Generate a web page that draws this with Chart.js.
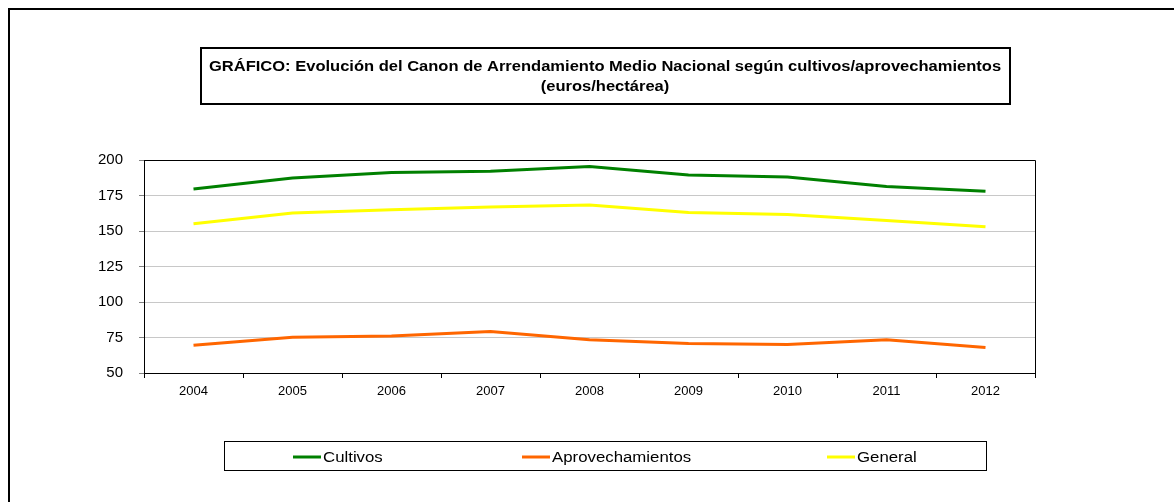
<!DOCTYPE html>
<html>
<head>
<meta charset="utf-8">
<script src="https://cdn.jsdelivr.net/npm/chart.js@4/dist/chart.umd.min.js"></script>
<style>
  html, body { margin: 0; padding: 0; background: #fff; }
  #wrap { width: 1174px; height: 502px; }
</style>
</head>
<body>
<div id="wrap"><canvas id="canonChart" width="1174" height="502"></canvas></div>
<script>
const years = ['2004', '2005', '2006', '2007', '2008', '2009', '2010', '2011', '2012'];
const cultivos = [179.6, 187.4, 191.2, 192.0, 195.4, 189.4, 188.0, 181.4, 178.0];
const aprovechamientos = [69.5, 75.1, 76.1, 79.3, 73.4, 70.8, 70.1, 73.4, 68.0];
const general = [155.1, 162.6, 165.0, 166.9, 168.3, 163.0, 161.6, 157.4, 153.0];

const titleLines = [
    'GRÁFICO: Evolución del Canon de Arrendamiento Medio Nacional según cultivos/aprovechamientos',
    '(euros/hectárea)'
];
const FONT = '"Liberation Sans", Arial, sans-serif';

// text stretched a bit wider, like the reference
function wideText(ctx, text, x, y, sx) {
    ctx.save();
    ctx.translate(x, y);
    ctx.scale(sx, 1);
    ctx.fillText(text, 0, 0);
    ctx.restore();
}

// frame, title box, legend box and plot border (Excel look)
const excelDecor = {
    id: 'excelDecor',
    afterDraw(chart) {
        const ctx = chart.ctx;
        const area = chart.chartArea;
        ctx.save();

        // outer frame
        ctx.strokeStyle = '#000';
        ctx.lineWidth = 2;
        ctx.beginPath();
        ctx.moveTo(9, 502);
        ctx.lineTo(9, 9);
        ctx.lineTo(1174, 9);
        ctx.stroke();

        // plot area border
        ctx.lineWidth = 1;
        ctx.beginPath();
        ctx.moveTo(area.left, area.top + 0.5);
        ctx.lineTo(area.right + 0.5, area.top + 0.5);
        ctx.lineTo(area.right + 0.5, area.bottom);
        ctx.stroke();

        // title box
        ctx.lineWidth = 2;
        ctx.strokeRect(201, 48, 809, 56);
        ctx.fillStyle = '#000';
        ctx.font = 'bold 14px ' + FONT;
        ctx.textAlign = 'center';
        ctx.textBaseline = 'middle';
        wideText(ctx, titleLines[0], 605, 67, 1.18);
        wideText(ctx, titleLines[1], 605, 87, 1.18);

        // legend box
        ctx.lineWidth = 1;
        ctx.strokeRect(224.5, 441.5, 762, 29);
        ctx.font = '14px ' + FONT;
        ctx.textAlign = 'left';
        const items = [[293, 0], [522, 1], [827, 2]];
        items.forEach(([x, i]) => {
            const ds = chart.data.datasets[i];
            ctx.strokeStyle = ds.borderColor;
            ctx.lineWidth = 3;
            ctx.beginPath();
            ctx.moveTo(x, 457);
            ctx.lineTo(x + 28, 457);
            ctx.stroke();
            ctx.fillStyle = '#000';
            wideText(ctx, ds.label, x + 30, 458, 1.2);
        });
        ctx.restore();
    }
};

const ctx = document.getElementById('canonChart').getContext('2d');
const canonChart = new Chart(ctx, {
    type: 'line',
    data: {
        labels: years,
        datasets: [
            { label: 'Cultivos', data: cultivos, borderColor: '#008000', backgroundColor: '#008000' },
            { label: 'Aprovechamientos', data: aprovechamientos, borderColor: '#FF6600', backgroundColor: '#FF6600' },
            { label: 'General', data: general, borderColor: '#FFFF00', backgroundColor: '#FFFF00' }
        ]
    },
    options: {
        responsive: false,
        animation: false,
        events: [],
        datasets: { line: { borderWidth: 3, pointRadius: 0, tension: 0 } },
        layout: { padding: { left: 0, right: 139, top: 160, bottom: 0 } },
        plugins: {
            legend: { display: false },
            title: { display: false },
            tooltip: { enabled: false }
        },
        scales: {
            x: {
                type: 'category',
                offset: true,
                grid: {
                    offset: true,
                    drawOnChartArea: false,
                    tickLength: 5,
                    tickColor: '#000'
                },
                border: { color: '#000', width: 1 },
                ticks: { color: '#000', padding: 6, font: { family: FONT, size: 13 }, maxRotation: 0 },
                afterFit(scale) { scale.height = 129; }
            },
            y: {
                min: 50,
                max: 200,
                ticks: { stepSize: 25, color: '#000', padding: 16, font: { family: FONT, size: 15 } },
                grid: { color: '#c8c8c8', tickLength: 5, tickColor: '#808080' },
                border: { color: '#000', width: 1 },
                afterFit(scale) { scale.width = 144; }
            }
        }
    },
    plugins: [excelDecor]
});
</script>
</body>
</html>
